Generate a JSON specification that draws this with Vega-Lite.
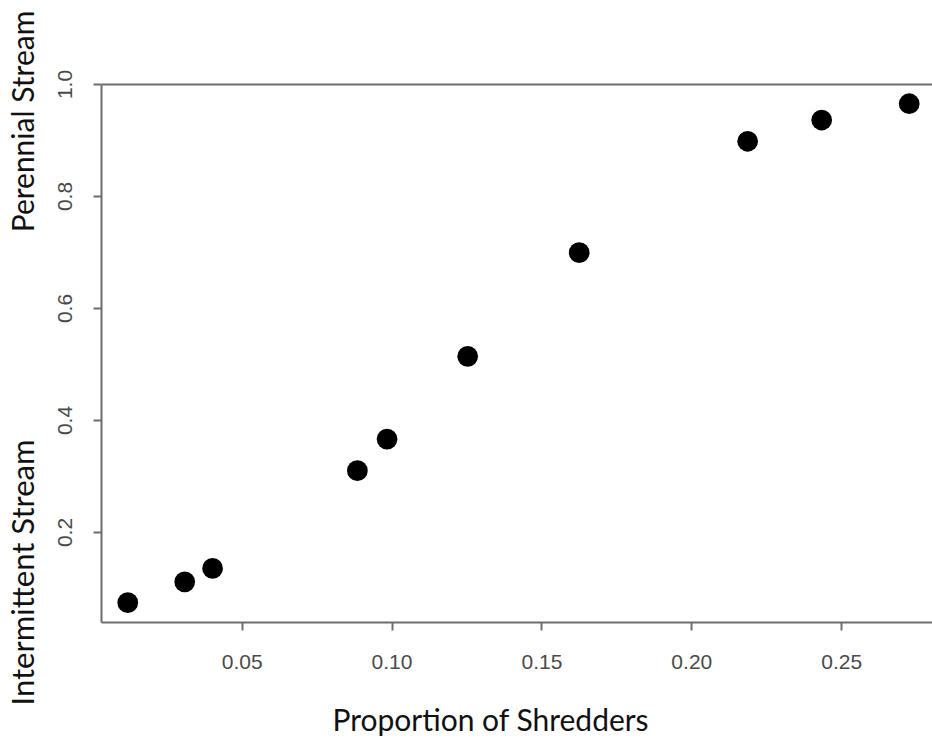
{
  "$schema": "https://vega.github.io/schema/vega-lite/v6.json",
  "width": 831,
  "height": 538,
  "autosize": "none",
  "padding": {"left": 101, "top": 84, "right": 0, "bottom": 116},
  "background": "white",
  "config": {
    "view": {"stroke": null},
    "axis": {
      "grid": false,
      "domainColor": "#6e6e6e",
      "domainWidth": 2,
      "tickColor": "#6e6e6e",
      "tickWidth": 2,
      "tickSize": 8,
      "labelFont": "Liberation Sans",
      "labelFontSize": 21,
      "labelColor": "#4a4a4a",
      "titleFont": "Lato",
      "titleFontSize": 30,
      "titleFontWeight": "normal",
      "titleColor": "#111111",
      "labelFlush": false,
      "labelOverlap": false
    }
  },
  "data": {
    "values": [
      {"shredders": 0.0120, "stream": 0.0738},
      {"shredders": 0.0310, "stream": 0.1110},
      {"shredders": 0.0403, "stream": 0.1350},
      {"shredders": 0.0886, "stream": 0.3095},
      {"shredders": 0.0985, "stream": 0.3660},
      {"shredders": 0.1254, "stream": 0.5137},
      {"shredders": 0.1626, "stream": 0.6988},
      {"shredders": 0.2188, "stream": 0.8977},
      {"shredders": 0.2435, "stream": 0.9357},
      {"shredders": 0.2727, "stream": 0.9648}
    ]
  },
  "layer": [
    {
      "mark": {"type": "circle", "size": 430, "color": "#000000", "opacity": 1},
      "encoding": {
        "x": {
          "field": "shredders",
          "type": "quantitative",
          "scale": {"domain": [0.00307, 0.2803], "nice": false, "zero": false},
          "axis": {
            "orient": "bottom",
            "values": [0.05, 0.10, 0.15, 0.20, 0.25],
            "format": ".2f",
            "labelPadding": 21,
            "title": "Proportion of Shredders",
            "titleX": 389,
            "titleY": 108,
            "titleAlign": "center",
            "titleBaseline": "alphabetic"
          }
        },
        "y": {
          "field": "stream",
          "type": "quantitative",
          "scale": {"domain": [0.0393, 1.0], "nice": false, "zero": false},
          "axis": {
            "orient": "left",
            "values": [0.2, 0.4, 0.6, 0.8, 1.0],
            "format": ".1f",
            "labelAngle": 270,
            "labelAlign": "center",
            "labelBaseline": "bottom",
            "labelPadding": 18,
            "title": "Intermittent Stream",
            "titleAngle": 270,
            "titleX": -77,
            "titleY": 488,
            "titleAlign": "center",
            "titleBaseline": "middle",
            "titleFontSize": 31
          }
        }
      }
    },
    {
      "mark": {"type": "circle", "opacity": 0},
      "encoding": {
        "x": {
          "field": "shredders",
          "type": "quantitative",
          "scale": {"domain": [0.00307, 0.2803], "nice": false, "zero": false},
          "axis": {"orient": "top", "labels": false, "ticks": false, "title": null, "domain": true}
        },
        "y": {
          "field": "stream",
          "type": "quantitative",
          "scale": {"domain": [0.0393, 1.0], "nice": false, "zero": false},
          "axis": {
            "orient": "left",
            "labels": false,
            "ticks": false,
            "domain": false,
            "title": "Perennial Stream",
            "titleAngle": 270,
            "titleX": -77,
            "titleY": 37,
            "titleAlign": "center",
            "titleBaseline": "middle"
          }
        }
      }
    }
  ],
  "resolve": {"scale": {"x": "independent", "y": "independent"}, "axis": {"x": "independent", "y": "independent"}}
}
